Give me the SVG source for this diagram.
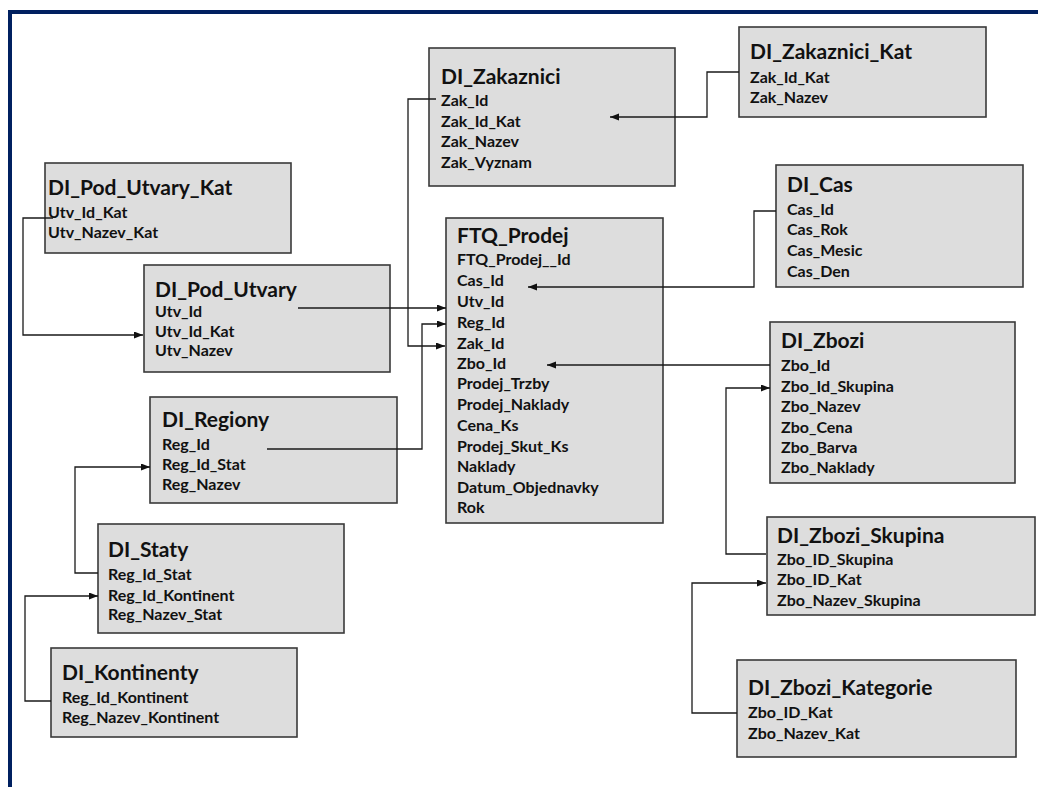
<svg xmlns="http://www.w3.org/2000/svg" width="1038" height="787" viewBox="0 0 1038 787">
  <defs>
    <marker id="arrow" markerUnits="userSpaceOnUse" markerWidth="10" markerHeight="8" refX="9" refY="3.5" orient="auto">
      <path d="M0,0 L9,3.5 L0,7 z" fill="#111"/>
    </marker>
    <style>
      .box { fill: #dddddd; stroke: #3a3a3a; stroke-width: 1.6; }
      .title { font-family: Lato, "Open Sans", sans-serif; font-weight: bold; font-size: 21px; fill: #111; }
      .field { font-family: Lato, "Open Sans", sans-serif; font-weight: bold; font-size: 16px; fill: #111; }
      .link { fill: none; stroke: #1a1a1a; stroke-width: 1.3; marker-end: url(#arrow); }
      .frame { fill: #002060; }
    </style>
  </defs>

  <rect width="1038" height="787" fill="#ffffff"/>

  <!-- page frame -->
  <rect class="frame" x="8" y="10" width="1030" height="4"/>
  <rect class="frame" x="8" y="10" width="4" height="777"/>

  <g id="DI_Zakaznici_Kat">
    <rect class="box" x="739" y="27" width="247" height="90"/>
    <text class="title" x="750" y="59">DI_Zakaznici_Kat</text>
    <text class="field" x="750" y="83">Zak_Id_Kat</text>
    <text class="field" x="750" y="103">Zak_Nazev</text>
  </g>

  <g id="DI_Zakaznici">
    <rect class="box" x="429" y="48" width="246" height="138"/>
    <text class="title" x="441" y="84">DI_Zakaznici</text>
    <text class="field" x="441" y="106">Zak_Id</text>
    <text class="field" x="441" y="127">Zak_Id_Kat</text>
    <text class="field" x="441" y="147">Zak_Nazev</text>
    <text class="field" x="441" y="168">Zak_Vyznam</text>
  </g>

  <g id="DI_Pod_Utvary_Kat">
    <rect class="box" x="45" y="163" width="246" height="90"/>
    <text class="title" x="48" y="195">DI_Pod_Utvary_Kat</text>
    <text class="field" x="48" y="218">Utv_Id_Kat</text>
    <text class="field" x="48" y="238">Utv_Nazev_Kat</text>
  </g>

  <g id="DI_Cas">
    <rect class="box" x="776" y="165" width="247" height="122"/>
    <text class="title" x="787" y="192">DI_Cas</text>
    <text class="field" x="787" y="215">Cas_Id</text>
    <text class="field" x="787" y="235">Cas_Rok</text>
    <text class="field" x="787" y="256">Cas_Mesic</text>
    <text class="field" x="787" y="277">Cas_Den</text>
  </g>

  <g id="FTQ_Prodej">
    <rect class="box" x="446" y="218" width="217" height="305"/>
    <text class="title" x="457" y="243">FTQ_Prodej</text>
    <text class="field" x="457" y="265">FTQ_Prodej__Id</text>
    <text class="field" x="457" y="286">Cas_Id</text>
    <text class="field" x="457" y="307">Utv_Id</text>
    <text class="field" x="457" y="328">Reg_Id</text>
    <text class="field" x="457" y="349">Zak_Id</text>
    <text class="field" x="457" y="369">Zbo_Id</text>
    <text class="field" x="457" y="389">Prodej_Trzby</text>
    <text class="field" x="457" y="410">Prodej_Naklady</text>
    <text class="field" x="457" y="431">Cena_Ks</text>
    <text class="field" x="457" y="452">Prodej_Skut_Ks</text>
    <text class="field" x="457" y="472">Naklady</text>
    <text class="field" x="457" y="493">Datum_Objednavky</text>
    <text class="field" x="457" y="513">Rok</text>
  </g>

  <g id="DI_Pod_Utvary">
    <rect class="box" x="144" y="265" width="246" height="107"/>
    <text class="title" x="155" y="297">DI_Pod_Utvary</text>
    <text class="field" x="155" y="317">Utv_Id</text>
    <text class="field" x="155" y="337">Utv_Id_Kat</text>
    <text class="field" x="155" y="356">Utv_Nazev</text>
  </g>

  <g id="DI_Zbozi">
    <rect class="box" x="770" y="322" width="245" height="161"/>
    <text class="title" x="781" y="348">DI_Zbozi</text>
    <text class="field" x="781" y="371">Zbo_Id</text>
    <text class="field" x="781" y="392">Zbo_Id_Skupina</text>
    <text class="field" x="781" y="412">Zbo_Nazev</text>
    <text class="field" x="781" y="433">Zbo_Cena</text>
    <text class="field" x="781" y="453">Zbo_Barva</text>
    <text class="field" x="781" y="473">Zbo_Naklady</text>
  </g>

  <g id="DI_Regiony">
    <rect class="box" x="150" y="397" width="247" height="106"/>
    <text class="title" x="162" y="427">DI_Regiony</text>
    <text class="field" x="162" y="450">Reg_Id</text>
    <text class="field" x="162" y="470">Reg_Id_Stat</text>
    <text class="field" x="162" y="490">Reg_Nazev</text>
  </g>

  <g id="DI_Zbozi_Skupina">
    <rect class="box" x="767" y="517" width="268" height="98"/>
    <text class="title" x="777" y="543">DI_Zbozi_Skupina</text>
    <text class="field" x="777" y="565">Zbo_ID_Skupina</text>
    <text class="field" x="777" y="585">Zbo_ID_Kat</text>
    <text class="field" x="777" y="606">Zbo_Nazev_Skupina</text>
  </g>

  <g id="DI_Staty">
    <rect class="box" x="98" y="524" width="246" height="109"/>
    <text class="title" x="108" y="557">DI_Staty</text>
    <text class="field" x="108" y="580">Reg_Id_Stat</text>
    <text class="field" x="108" y="601">Reg_Id_Kontinent</text>
    <text class="field" x="108" y="620">Reg_Nazev_Stat</text>
  </g>

  <g id="DI_Kontinenty">
    <rect class="box" x="51" y="648" width="246" height="89"/>
    <text class="title" x="62" y="680">DI_Kontinenty</text>
    <text class="field" x="62" y="703">Reg_Id_Kontinent</text>
    <text class="field" x="62" y="723">Reg_Nazev_Kontinent</text>
  </g>

  <g id="DI_Zbozi_Kategorie">
    <rect class="box" x="737" y="660" width="279" height="97"/>
    <text class="title" x="748" y="695">DI_Zbozi_Kategorie</text>
    <text class="field" x="748" y="718">Zbo_ID_Kat</text>
    <text class="field" x="748" y="739">Zbo_Nazev_Kat</text>
  </g>

  <!-- relationships: key column to referencing column -->
  <g id="connectors">
    <path class="link" d="M739,72 H707 V117 H610"/>
    <path class="link" d="M436,99 H408 V346 H445"/>
    <path class="link" d="M53,218 H23 V335 H143"/>
    <path class="link" d="M298,308 H446"/>
    <path class="link" d="M267,449 H422 V324 H446"/>
    <path class="link" d="M776,211 H754 V287 H528"/>
    <path class="link" d="M770,365 H547"/>
    <path class="link" d="M766,554 H726 V388 H770"/>
    <path class="link" d="M737,713 H692 V583 H766"/>
    <path class="link" d="M98,573 H75 V467 H150"/>
    <path class="link" d="M51,701 H25 V596 H98"/>
  </g>
</svg>
